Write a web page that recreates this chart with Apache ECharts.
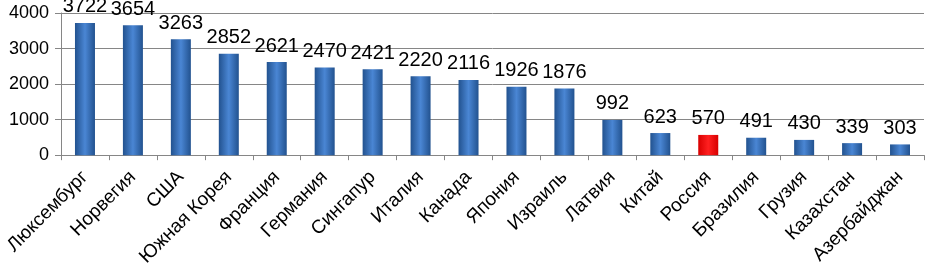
<!DOCTYPE html>
<html><head><meta charset="utf-8">
<script src="https://cdn.jsdelivr.net/npm/echarts@6/dist/echarts.min.js"></script>
<style>html,body{margin:0;padding:0;background:#fff}#c{width:925px;height:269px}</style>
</head><body><div id="c"></div>
<script>
const categories = ['Люксембург','Норвегия','США','Южная Корея','Франция','Германия','Сингапур','Италия','Канада','Япония','Израиль','Латвия','Китай','Россия','Бразилия','Грузия','Казахстан','Азербайджан'];
const values = [3722,3654,3263,2852,2621,2470,2421,2220,2116,1926,1876,992,623,570,491,430,339,303];
const highlight = 'Россия';
const yTicks = [0,1000,2000,3000,4000];

const FONT = '"Liberation Sans", Arial, sans-serif';
function grad(dark, light){
  return new echarts.graphic.LinearGradient(0,0,1,0,[
    {offset:0,color:dark},{offset:0.5,color:light},{offset:1,color:dark}
  ]);
}
const blue = grad('#22528f','#4a86d4');
const red = grad('#d80000','#ff2020');

const chart = echarts.init(document.getElementById('c'));
chart.setOption({
  animation:false,
  grid:{left:61,right:1,top:13,bottom:113,containLabel:false},
  xAxis:{
    type:'category',data:categories,
    axisLine:{lineStyle:{color:'#868686'}},
    axisTick:{show:true,length:5,lineStyle:{color:'#868686'}},
    axisLabel:{rotate:45,interval:0,color:'#000',fontFamily:FONT,fontSize:19,margin:19}
  },
  yAxis:{
    type:'value',min:yTicks[0],max:yTicks[yTicks.length-1],interval:1000,
    axisLine:{show:true,lineStyle:{color:'#868686'}},
    axisTick:{show:true,length:6,lineStyle:{color:'#868686'}},
    splitLine:{lineStyle:{color:'#868686'}},
    axisLabel:{color:'#000',fontFamily:FONT,fontSize:18,margin:12,formatter:v=>String(v)}
  },
  series:[{
    type:'bar',barWidth:20,
    data:values.map((v,i)=>({value:v,itemStyle:{color:categories[i]===highlight?red:blue}})),
    label:{show:true,position:'top',distance:6,color:'#000',fontFamily:FONT,fontSize:20}
  }]
});
</script></body></html>
